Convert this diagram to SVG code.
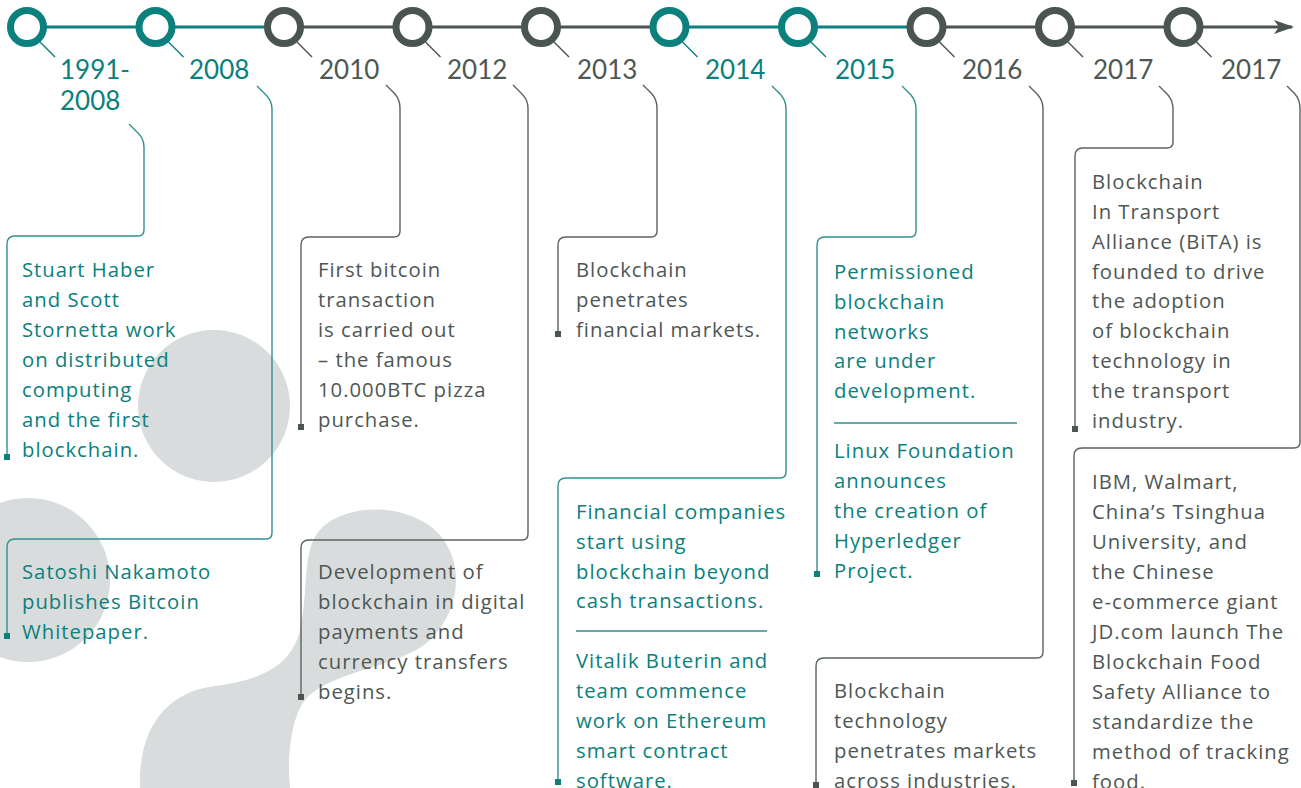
<svg xmlns="http://www.w3.org/2000/svg" width="1301" height="788" viewBox="0 0 1301 788">
<style>
.t{fill:#0b807c}
.g{fill:#4d5754}
.body{font-family:"Open Sans","Noto Sans",sans-serif;font-size:20.3px;letter-spacing:1px}
.yr{font-family:Lato,"Noto Sans",sans-serif;font-size:26px}
.ct{fill:none;stroke:#2f918d;stroke-width:1.4}
.cg{fill:none;stroke:#5a6360;stroke-width:1.4}
.tick{stroke-width:1.4}
.blob{fill:#d9dcdc}
.ringT{fill:#fff;stroke:#0b807c;stroke-width:7}
.ringG{fill:#fff;stroke:#4a5451;stroke-width:7}
</style>
<defs>
<marker id="arr" viewBox="0 0 20 14" refX="18" refY="7" markerWidth="20" markerHeight="14" markerUnits="userSpaceOnUse" orient="auto">
<path d="M0,0 L20,7 L0,14 L5,7 Z" fill="#4a5451"/>
</marker>
</defs>
<rect width="1301" height="788" fill="#fff"/>
<g id="background">
<circle class="blob" cx="214" cy="406" r="76"/>
<circle class="blob" cx="28" cy="580" r="82"/>
<path class="blob" d="M140,788 C138,730 165,692 215,686 C262,680 292,665 300,630 C310,585 300,545 325,525 C352,503 410,503 440,535 C465,565 460,610 430,640 C400,668 330,670 305,700 C290,720 287,760 290,788 Z"/>
</g>
<g id="timeline">
<line x1="27" y1="27" x2="284" y2="27" stroke="#0b807c" stroke-width="3.2"/>
<line x1="284" y1="27" x2="669.5" y2="27" stroke="#4a5451" stroke-width="3.2"/>
<line x1="669.5" y1="27" x2="926.5" y2="27" stroke="#0b807c" stroke-width="3.2"/>
<line x1="926.5" y1="27" x2="1292" y2="27" stroke="#4a5451" stroke-width="3.2" marker-end="url(#arr)"/>
</g>
<g id="connectors">
<path class="ct" d="M129,124 L138,133 Q144,139 144,147 L144,230 Q144,236 138,236 L15,236 Q7,236 7,244 L7,457"/>
<path class="ct" d="M257,86 L266,95 Q272,101 272,109 L272,533 Q272,539 266,539 L15,539 Q7,539 7,547 L7,636"/>
<path class="cg" d="M386,85 L395,94 Q400,100 400,108 L400,231 Q400,237 394,237 L309,237 Q301,237 301,245 L301,427"/>
<path class="cg" d="M513,85 L522,94 Q528,100 528,108 L528,534 Q528,540 522,540 L309,540 Q301,540 301,548 L301,697"/>
<path class="cg" d="M643,85 L652,94 Q657,100 657,108 L657,231 Q657,237 651,237 L566,237 Q558,237 558,245 L558,334"/>
<path class="ct" d="M772,86 L781,95 Q786,101 786,109 L786,472 Q786,478 780,478 L566,478 Q558,478 558,486 L558,782"/>
<path class="ct" d="M902,86 L911,95 Q916,101 916,109 L916,231 Q916,237 910,237 L825,237 Q817,237 817,245 L817,574"/>
<path class="cg" d="M1029,86 L1038,95 Q1043,101 1043,109 L1043,652 Q1043,658 1037,658 L824,658 Q816,658 816,666 L816,785"/>
<path class="cg" d="M1159,86 L1168,95 Q1173,101 1173,109 L1173,142 Q1173,148 1167,148 L1083,148 Q1075,148 1075,156 L1075,429"/>
<path class="cg" d="M1287,86 L1295,94 Q1300,100 1300,108 L1300,442 Q1300,448 1294,448 L1082,448 Q1074,448 1074,456 L1074,783"/>
<line class="ct" x1="576" y1="631" x2="767" y2="631"/>
<line class="ct" x1="834" y1="423" x2="1017" y2="423"/>
<g fill="#0b807c">
<rect x="4" y="454" width="6" height="6"/>
<rect x="4" y="633" width="6" height="6"/>
<rect x="555" y="779" width="6" height="6"/>
<rect x="814" y="571" width="6" height="6"/>
</g>
<g fill="#4a5451">
<rect x="298" y="424" width="6" height="6"/>
<rect x="298" y="694" width="6" height="6"/>
<rect x="555" y="331" width="6" height="6"/>
<rect x="813" y="782" width="6" height="6"/>
<rect x="1072" y="426" width="6" height="6"/>
<rect x="1071" y="780" width="6" height="6"/>
</g>
</g>
<g id="n1991">
<circle class="ringT" cx="27" cy="27" r="16.5"/>
<line class="tick" stroke="#0b807c" x1="40" y1="42" x2="55" y2="57"/>
<text class="yr t" x="60" y="79">1991-</text>
<text class="yr t" x="60" y="110">2008</text>
<text class="body t" x="22"><tspan x="22" y="277">Stuart Haber</tspan><tspan x="22" y="307">and Scott</tspan><tspan x="22" y="337">Stornetta work</tspan><tspan x="22" y="367">on distributed</tspan><tspan x="22" y="397">computing</tspan><tspan x="22" y="427">and the first</tspan><tspan x="22" y="457">blockchain.</tspan></text>
</g>
<g id="n2008">
<circle class="ringT" cx="155.5" cy="27" r="16.5"/>
<line class="tick" stroke="#0b807c" x1="168.5" y1="42" x2="183.5" y2="57"/>
<text class="yr t" x="189" y="79">2008</text>
<text class="body t"><tspan x="22" y="579">Satoshi Nakamoto</tspan><tspan x="22" y="609">publishes Bitcoin</tspan><tspan x="22" y="639">Whitepaper.</tspan></text>
</g>
<g id="n2010">
<circle class="ringG" cx="284" cy="27" r="16.5"/>
<line class="tick" stroke="#4a5451" x1="297" y1="42" x2="312" y2="57"/>
<text class="yr g" x="319" y="79">2010</text>
<text class="body g"><tspan x="318" y="277">First bitcoin</tspan><tspan x="318" y="307">transaction</tspan><tspan x="318" y="337">is carried out</tspan><tspan x="318" y="367">– the famous</tspan><tspan x="318" y="397">10.000BTC pizza</tspan><tspan x="318" y="427">purchase.</tspan></text>
</g>
<g id="n2012">
<circle class="ringG" cx="412.5" cy="27" r="16.5"/>
<line class="tick" stroke="#4a5451" x1="425.5" y1="42" x2="440.5" y2="57"/>
<text class="yr g" x="447" y="79">2012</text>
<text class="body g"><tspan x="318" y="579">Development of</tspan><tspan x="318" y="609">blockchain in digital</tspan><tspan x="318" y="639">payments and</tspan><tspan x="318" y="669">currency transfers</tspan><tspan x="318" y="699">begins.</tspan></text>
</g>
<g id="n2013">
<circle class="ringG" cx="541" cy="27" r="16.5"/>
<line class="tick" stroke="#4a5451" x1="554" y1="42" x2="569" y2="57"/>
<text class="yr g" x="577" y="79">2013</text>
<text class="body g"><tspan x="576" y="277">Blockchain</tspan><tspan x="576" y="307">penetrates</tspan><tspan x="576" y="337">financial markets.</tspan></text>
</g>
<g id="n2014">
<circle class="ringT" cx="669.5" cy="27" r="16.5"/>
<line class="tick" stroke="#0b807c" x1="682.5" y1="42" x2="697.5" y2="57"/>
<text class="yr t" x="705" y="79">2014</text>
<text class="body t"><tspan x="576" y="519">Financial companies</tspan><tspan x="576" y="549">start using</tspan><tspan x="576" y="579">blockchain beyond</tspan><tspan x="576" y="608">cash transactions.</tspan><tspan x="576" y="668">Vitalik Buterin and</tspan><tspan x="576" y="698">team commence</tspan><tspan x="576" y="728">work on Ethereum</tspan><tspan x="576" y="758">smart contract</tspan><tspan x="576" y="788">software.</tspan></text>
</g>
<g id="n2015">
<circle class="ringT" cx="798" cy="27" r="16.5"/>
<line class="tick" stroke="#0b807c" x1="811" y1="42" x2="826" y2="57"/>
<text class="yr t" x="835" y="79">2015</text>
<text class="body t"><tspan x="834" y="279">Permissioned</tspan><tspan x="834" y="309">blockchain</tspan><tspan x="834" y="339">networks</tspan><tspan x="834" y="368">are under</tspan><tspan x="834" y="398">development.</tspan><tspan x="834" y="458">Linux Foundation</tspan><tspan x="834" y="488">announces</tspan><tspan x="834" y="518">the creation of</tspan><tspan x="834" y="548">Hyperledger</tspan><tspan x="834" y="578">Project.</tspan></text>
</g>
<g id="n2016">
<circle class="ringG" cx="926.5" cy="27" r="16.5"/>
<line class="tick" stroke="#4a5451" x1="939.5" y1="42" x2="954.5" y2="57"/>
<text class="yr g" x="962" y="79">2016</text>
<text class="body g"><tspan x="834" y="698">Blockchain</tspan><tspan x="834" y="728">technology</tspan><tspan x="834" y="758">penetrates markets</tspan><tspan x="834" y="788">across industries.</tspan></text>
</g>
<g id="n2017a">
<circle class="ringG" cx="1055" cy="27" r="16.5"/>
<line class="tick" stroke="#4a5451" x1="1068" y1="42" x2="1083" y2="57"/>
<text class="yr g" x="1093" y="79">2017</text>
<text class="body g"><tspan x="1092" y="189">Blockchain</tspan><tspan x="1092" y="219">In Transport</tspan><tspan x="1092" y="249">Alliance (BiTA) is</tspan><tspan x="1092" y="279">founded to drive</tspan><tspan x="1092" y="308">the adoption</tspan><tspan x="1092" y="338">of blockchain</tspan><tspan x="1092" y="368">technology in</tspan><tspan x="1092" y="398">the transport</tspan><tspan x="1092" y="428">industry.</tspan></text>
</g>
<g id="n2017b">
<circle class="ringG" cx="1183.5" cy="27" r="16.5"/>
<line class="tick" stroke="#4a5451" x1="1196.5" y1="42" x2="1211.5" y2="57"/>
<text class="yr g" x="1221" y="79">2017</text>
<text class="body g"><tspan x="1092" y="489">IBM, Walmart,</tspan><tspan x="1092" y="519">China’s Tsinghua</tspan><tspan x="1092" y="549">University, and</tspan><tspan x="1092" y="579">the Chinese</tspan><tspan x="1092" y="609">e-commerce giant</tspan><tspan x="1092" y="639">JD.com launch The</tspan><tspan x="1092" y="669">Blockchain Food</tspan><tspan x="1092" y="699">Safety Alliance to</tspan><tspan x="1092" y="729">standardize the</tspan><tspan x="1092" y="759">method of tracking</tspan><tspan x="1092" y="789">food.</tspan></text>
</g>
</svg>
